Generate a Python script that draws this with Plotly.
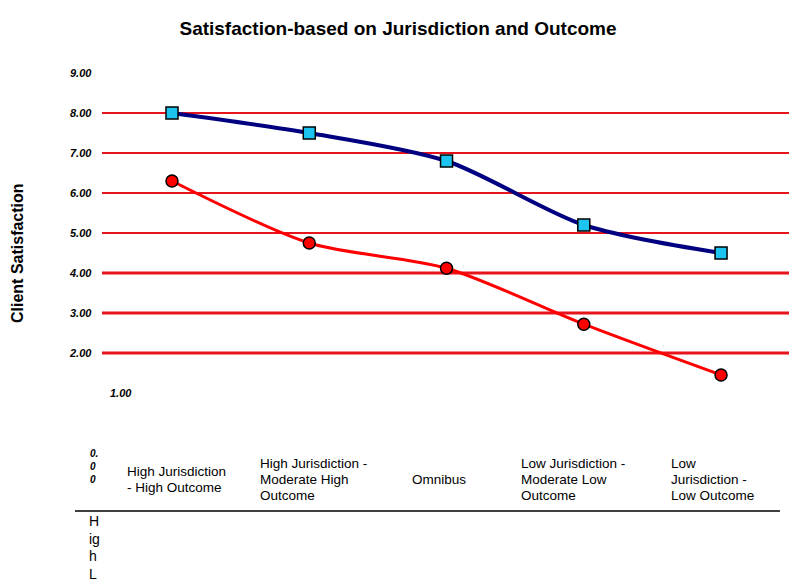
import plotly.graph_objects as go

# Data
categories = [
    "High Jurisdiction<br>- High Outcome",
    "High Jurisdiction -<br>Moderate High<br>Outcome",
    "Omnibus",
    "Low Jurisdiction -<br>Moderate Low<br>Outcome",
    "Low<br>Jurisdiction -<br>Low Outcome",
]
series_blue = [8.0, 7.5, 6.8, 5.2, 4.5]
series_red = [6.3, 4.75, 4.12, 2.72, 1.45]
tick_values = [2, 3, 4, 5, 6, 7, 8, 9]
tick_labels = ["2.00", "3.00", "4.00", "5.00", "6.00", "7.00", "8.00", "9.00"]
grid_values = [2, 3, 4, 5, 6, 7, 8]

FONT = "Arial, Liberation Sans, sans-serif"
W, H = 791, 582
ML, MR, MT, MB = 100, 2, 51, 69
PW = W - ML - MR
PH = H - MT - MB
sx = 2 / PW
sy = 2 / PH
XR = [-0.51, 4.495]
YR = [-2.0, 9.5]

idx = list(range(len(categories)))

fig = go.Figure()

# marker shadows on the base axes (offset by a couple of pixels)
fig.add_trace(go.Scatter(x=idx, y=series_blue, mode="markers",
                         marker=dict(symbol="square", size=12, color="black"),
                         xaxis="x", yaxis="y", hoverinfo="skip", showlegend=False))
fig.add_trace(go.Scatter(x=idx, y=series_red, mode="markers",
                         marker=dict(symbol="circle", size=12, color="black"),
                         xaxis="x", yaxis="y", hoverinfo="skip", showlegend=False))

# main series on the overlay axes
fig.add_trace(go.Scatter(x=idx, y=series_blue, mode="lines+markers",
                         line=dict(color="#000080", width=4, shape="spline", smoothing=0.8),
                         marker=dict(symbol="square", size=12, color="#1EC4F0",
                                     line=dict(color="black", width=1.5)),
                         xaxis="x2", yaxis="y2", showlegend=False))
fig.add_trace(go.Scatter(x=idx, y=series_red, mode="lines+markers",
                         line=dict(color="#FF0000", width=3, shape="spline", smoothing=0.8),
                         marker=dict(symbol="circle", size=12, color="#FF0000",
                                     line=dict(color="black", width=1.5)),
                         xaxis="x2", yaxis="y2", showlegend=False))


def py(pixel_y):
    """Convert a pixel row to a paper y coordinate."""
    return (PH - (pixel_y - MT)) / PH


def px(pixel_x):
    """Convert a pixel column to a paper x coordinate."""
    return (pixel_x - ML) / PW


shapes = []
for v in grid_values:
    shapes.append(dict(type="line", xref="x2 domain", yref="y2", x0=0, x1=1, y0=v, y1=v,
                       line=dict(color="#E8141C", width=3 if v <= 4 else 2), layer="below"))
# baseline under category labels
shapes.append(dict(type="line", xref="paper", yref="paper",
                   x0=px(75), x1=px(780), y0=py(511), y1=py(511),
                   line=dict(color="black", width=1.5)))

annotations = []
tick_font = dict(family=FONT, size=11, color="black", weight="bold", style="italic")
for v, t in zip(tick_values, tick_labels):
    annotations.append(dict(text=t, xref="paper", yref="y2", x=0, y=v,
                            xanchor="right", yanchor="middle", xshift=-6,
                            showarrow=False, font=tick_font))
annotations.append(dict(text="1.00", xref="paper", yref="y2", x=0, y=1,
                        xanchor="left", yanchor="middle", xshift=8,
                        showarrow=False, font=tick_font))
# the zero label wraps one character group per line
for k, part in enumerate(["0.", "0", "0"]):
    annotations.append(dict(text=part, xref="paper", yref="paper",
                            x=px(88), y=py(453 + 13 * k),
                            xanchor="left", yanchor="middle", align="left",
                            showarrow=False,
                            font=dict(family=FONT, size=10, color="black",
                                      weight="bold", style="italic")))

# category labels, written line by line with tight leading
label_left = [127, 260, 412, 521, 671]
label_mid_y = 479
line_gap = 16
for c, x0 in zip(categories, label_left):
    lines = c.split("<br>")
    n = len(lines)
    for k, ln in enumerate(lines):
        yy = label_mid_y + (k - (n - 1) / 2) * line_gap
        annotations.append(dict(text=ln, xref="paper", yref="paper",
                                x=px(x0), y=py(yy), xanchor="left", yanchor="middle",
                                xshift=-2, showarrow=False,
                                font=dict(family=FONT, size=13.5, color="black")))

for k, part in enumerate(["H", "ig", "h", "L"]):
    annotations.append(dict(text=part, xref="paper", yref="paper",
                            x=px(87), y=py(521 + 17.7 * k),
                            xanchor="left", yanchor="middle", align="left",
                            showarrow=False,
                            font=dict(family=FONT, size=14, color="black")))

annotations.append(dict(text="Client Satisfaction", xref="paper", yref="paper",
                        x=px(18), y=py(253), textangle=-90,
                        xanchor="center", yanchor="middle", showarrow=False,
                        font=dict(family=FONT, size=16, color="black", weight="bold")))

fig.update_layout(
    width=W, height=H,
    margin=dict(l=ML, r=MR, t=MT, b=MB),
    paper_bgcolor="white", plot_bgcolor="white",
    title=dict(text="Satisfaction-based on Jurisdiction and Outcome",
               xref="container", yref="container", x=398 / W, y=1 - 28 / H,
               xanchor="center", yanchor="middle",
               font=dict(family=FONT, size=19, color="black", weight="bold")),
    xaxis=dict(domain=[sx, 1], range=XR, visible=False),
    yaxis=dict(domain=[0, 1 - sy], range=YR, visible=False),
    xaxis2=dict(domain=[0, 1 - sx], range=XR, visible=False, overlaying="x", anchor="y2"),
    yaxis2=dict(domain=[sy, 1], range=YR, visible=False, overlaying="y", anchor="x2"),
    shapes=shapes,
    annotations=annotations,
    showlegend=False,
)

fig.write_html("out.html")
